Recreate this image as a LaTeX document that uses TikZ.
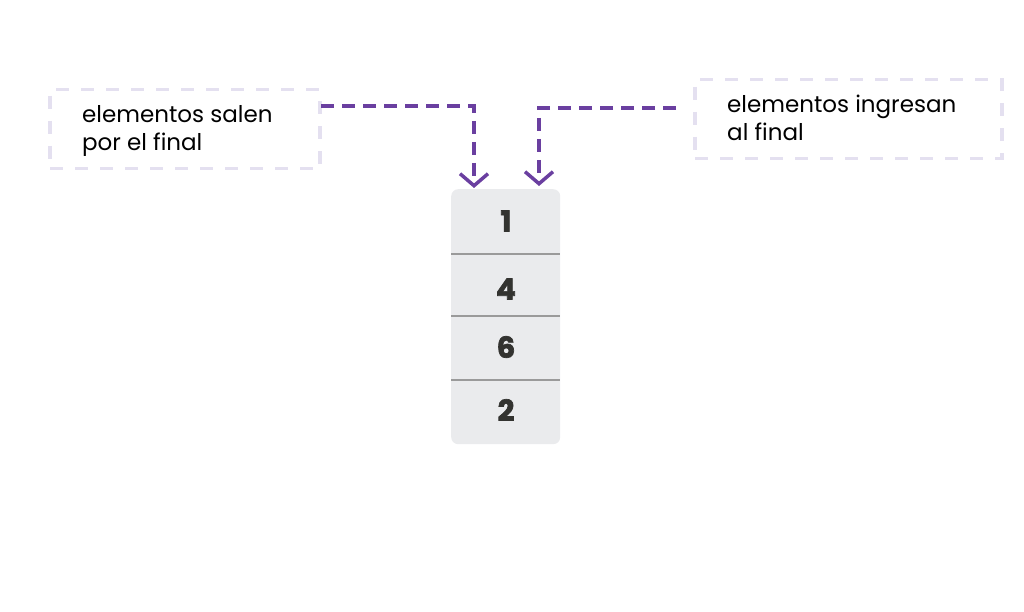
\documentclass[tikz,border=0pt]{standalone}
\usepackage{fontspec}
\setmainfont{Poppins}[BoldFeatures={FakeBold=2.5}]
\usetikzlibrary{arrows.meta}
\definecolor{boxdash}{HTML}{E4E0F0}
\definecolor{purp}{HTML}{6A3FA0}
\definecolor{stackfill}{HTML}{EAEBED}
\definecolor{divider}{HTML}{9A9A9A}
\definecolor{numcol}{HTML}{333330}
\tikzset{
  x=1pt,y=-1pt,
  labelbox/.style={draw=boxdash,line width=3.5pt,dash pattern=on 13pt off 12pt,minimum height=79pt,inner sep=0pt},
  labeltext/.style={font=\fontsize{23}{28}\selectfont,align=left,anchor=north west,inner sep=0pt},
  conn/.style={draw=purp,line width=3.5pt,dash pattern=on 13pt off 8pt,-{Straight Barb[length=12pt,width=28pt,line width=3.5pt]}},
  numtext/.style={font=\fontsize{29}{30}\selectfont\bfseries,text=numcol,inner sep=0pt},
  divline/.style={draw=divider,line width=1.5pt}
}
\begin{document}
\begin{tikzpicture}
\useasboundingbox (0,0) rectangle (1024,612);
% left box
\node[labelbox,minimum width=270pt,anchor=north west] (lbox) at (48,88) {};
\node[labeltext] (ltext) at (82,105) {elementos salen\\por el final};
% right box
\node[labelbox,minimum width=307pt,anchor=north west] (rbox) at (693,78) {};
\node[labeltext] (rtext) at (727,95) {elementos ingresan\\al final};
% stack
\node[fill=stackfill,rounded corners=7pt,minimum width=109pt,minimum height=255pt,anchor=north west,inner sep=0pt] (stack) at (451,189) {};
\draw[divline] (451,254) -- (560,254);
\draw[divline] (451,316) -- (560,316);
\draw[divline] (451,380) -- (560,380);
\node[numtext] (n1) at (506,221) {1};
\node[numtext] (n4) at (506,289) {4};
\node[numtext] (n6) at (506,347) {6};
\node[numtext] (n2) at (506,410) {2};
% connectors
\coordinate (lstart) at (321,106);
\coordinate (lend) at (474,188);
\coordinate (rstart) at (676,108);
\coordinate (rend) at (539,186);
\draw[conn] (lstart) -- (lstart -| lend) -- (lend);
\draw[conn] (rstart) -- (rstart -| rend) -- (rend);
\end{tikzpicture}
\end{document}
